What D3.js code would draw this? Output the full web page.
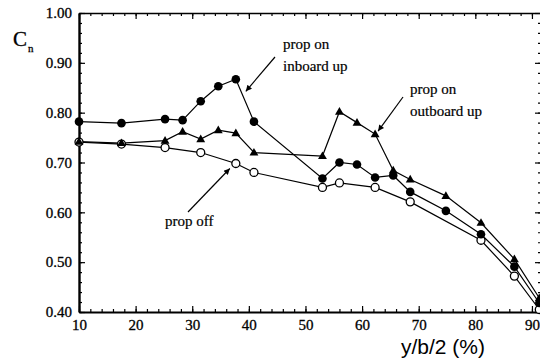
<!DOCTYPE html>
<html>
<head>
<meta charset="utf-8">
<script src="https://cdn.jsdelivr.net/npm/d3@7"></script>
<style>
  html, body { margin: 0; padding: 0; background: #fff; }
  svg { display: block; }
</style>
</head>
<body>
<svg id="chart" width="540" height="360"></svg>
<script>
// Spanwise stations, y/b/2 (%)
const stations = [10, 17.5, 25.2, 28.3, 31.5, 34.6, 37.7, 40.9, 53, 56, 59.1, 62.3, 65.5, 68.5, 74.8, 81, 86.9, 91.3];

// Normal-force coefficient, propeller on, inboard up (filled circles)
const inboardUp = [0.782, 0.779, 0.787, 0.785, 0.823, 0.853, 0.867, 0.782, 0.668, 0.700, 0.696, 0.670, 0.674, 0.641, 0.603, 0.556, 0.491, 0.418];

// Propeller on, outboard up (triangles)
const outboardUp = [0.742, 0.739, 0.744, 0.762, 0.747, 0.765, 0.759, 0.720, 0.713, 0.802, 0.780, 0.757, 0.684, 0.666, 0.633, 0.579, 0.506, 0.428];

// Propeller off (open circles)
const offStations = [10, 17.5, 25.2, 31.5, 37.7, 40.9, 53, 56, 62.3, 68.5, 81, 86.9, 91.3];
const propOff = [0.741, 0.737, 0.730, 0.720, 0.698, 0.680, 0.650, 0.659, 0.650, 0.621, 0.544, 0.472, 0.405];

const xMajorTicks = [10, 20, 30, 40, 50, 60, 70, 80, 90];
const yMajorTicks = [0.40, 0.50, 0.60, 0.70, 0.80, 0.90, 1.00];

const SERIF = "'Liberation Serif', 'Times New Roman', serif";
const SANS = "'Liberation Sans', Arial, sans-serif";

const svg = d3.select("#chart");

const x = d3.scaleLinear().domain([10, 91.6]).range([79, 541]);
const y = d3.scaleLinear().domain([0.4, 1.0]).range([312, 13]);

const xMinor = d3.range(10, 92, 2);
const yMinor = d3.range(0.40, 1.001, 0.02);

function styleAxis(g, width) {
  g.select(".domain").attr("stroke", "#000").attr("stroke-width", width);
  g.selectAll(".tick line").attr("stroke", "#000").attr("stroke-width", 1.2);
  g.selectAll(".tick text")
    .style("font-family", SERIF).style("font-size", "15px")
    .style("fill", "#000").style("stroke", "#000").style("stroke-width", "0.3px");
}

// Bottom axis
const gb = svg.append("g").attr("transform", `translate(0,${y(0.4)})`);
gb.call(d3.axisBottom(x).tickValues(xMinor).tickSizeInner(-3).tickSizeOuter(0).tickFormat(""));
gb.call(g => g.select(".domain").remove());
const gb2 = svg.append("g").attr("transform", `translate(0,${y(0.4)})`);
gb2.call(d3.axisBottom(x).tickValues(xMajorTicks).tickSizeInner(-6).tickSizeOuter(0).tickPadding(7).tickFormat(d3.format("d")));
styleAxis(gb, 2); styleAxis(gb2, 2.2);

// Top axis
const gt = svg.append("g").attr("transform", `translate(0,${y(1.0)})`);
gt.call(d3.axisTop(x).tickValues(xMinor).tickSizeInner(-3).tickSizeOuter(0).tickFormat(""));
gt.call(g => g.select(".domain").remove());
const gt2 = svg.append("g").attr("transform", `translate(0,${y(1.0)})`);
gt2.call(d3.axisTop(x).tickValues(xMajorTicks).tickSizeInner(-6).tickSizeOuter(0).tickFormat(""));
styleAxis(gt, 1.6); styleAxis(gt2, 1.6);

// Left axis
const gl = svg.append("g").attr("transform", `translate(${x(10)},0)`);
gl.call(d3.axisLeft(y).tickValues(yMinor).tickSizeInner(-3).tickSizeOuter(0).tickFormat(""));
gl.call(g => g.select(".domain").remove());
const gl2 = svg.append("g").attr("transform", `translate(${x(10)},0)`);
gl2.call(d3.axisLeft(y).tickValues(yMajorTicks).tickSizeInner(-6).tickSizeOuter(0).tickPadding(7).tickFormat(d3.format(".2f")));
styleAxis(gl, 2); styleAxis(gl2, 2.4);

// Right axis
const gr = svg.append("g").attr("transform", `translate(${x(91.6)},0)`);
gr.call(d3.axisRight(y).tickValues(yMinor).tickSizeInner(-3).tickSizeOuter(0).tickFormat(""));
gr.call(g => g.select(".domain").remove());
const gr2 = svg.append("g").attr("transform", `translate(${x(91.6)},0)`);
gr2.call(d3.axisRight(y).tickValues(yMajorTicks).tickSizeInner(-6).tickSizeOuter(0).tickFormat(""));
styleAxis(gr, 1.5); styleAxis(gr2, 1.5);

// Axis titles
const cn = svg.append("text")
  .attr("x", 13).attr("y", 46)
  .style("font-family", SERIF).style("font-size", "21px")
  .style("fill", "#000").style("stroke", "#000").style("stroke-width", "0.3px")
  .text("C");
cn.append("tspan").style("font-size", "11px").attr("dx", 1).attr("dy", 6).text("n");

svg.append("text")
  .attr("x", 401).attr("y", 354)
  .style("font-family", SANS).style("font-size", "21px").style("fill", "#000")
  .text("y/b/2 (%)");

// Series lines
const line = d3.line().x(d => x(d[0])).y(d => y(d[1]));
const sOff = offStations.map((s, i) => [s, propOff[i]]);
const sIn = stations.map((s, i) => [s, inboardUp[i]]);
const sOut = stations.map((s, i) => [s, outboardUp[i]]);

const plot = svg.append("g");
[sOff, sIn, sOut].forEach(data => {
  plot.append("path").datum(data)
    .attr("d", line).attr("fill", "none")
    .attr("stroke", "#000").attr("stroke-width", 1.2);
});

// Markers
plot.selectAll(".off").data(sOff).join("circle")
  .attr("cx", d => x(d[0])).attr("cy", d => y(d[1])).attr("r", 4)
  .attr("fill", "#fff").attr("stroke", "#000").attr("stroke-width", 1.3);
plot.selectAll(".in").data(sIn).join("circle")
  .attr("cx", d => x(d[0])).attr("cy", d => y(d[1])).attr("r", 4.3)
  .attr("fill", "#000");
const tri = d3.symbol().type(d3.symbolTriangle).size(34);
plot.selectAll(".out").data(sOut).join("path")
  .attr("transform", d => `translate(${x(d[0])},${y(d[1]) + 0.5})`)
  .attr("d", tri).attr("fill", "#000");

// Annotations
const defs = svg.append("defs");
defs.append("marker").attr("id", "head")
  .attr("viewBox", "0 0 10 10").attr("refX", 10).attr("refY", 5)
  .attr("markerWidth", 9).attr("markerHeight", 6).attr("markerUnits", "userSpaceOnUse")
  .attr("orient", "auto")
  .append("path").attr("d", "M0,0 L10,5 L0,10 Z").attr("fill", "#000");

function note(lines, tx, ty, from, to) {
  lines.forEach((t, i) => {
    svg.append("text").attr("x", tx).attr("y", ty + i * 22)
      .style("font-family", SERIF).style("font-size", "15px")
      .style("fill", "#000").style("stroke", "#000").style("stroke-width", "0.2px")
      .text(t);
  });
  svg.append("line")
    .attr("x1", from[0]).attr("y1", from[1]).attr("x2", to[0]).attr("y2", to[1])
    .attr("stroke", "#000").attr("stroke-width", 1.2).attr("marker-end", "url(#head)");
}

note(["prop on", "inboard up"], 283, 49, [275, 57], [x(37.7) + 10, y(0.867) + 12]);
note(["prop on", "outboard up"], 410, 94, [403, 97], [x(62.3) + 3, y(0.757) - 3]);
note(["prop off"], 165, 226, [188, 212], [x(37.7) - 6, y(0.698) + 5]);
</script>
</body>
</html>
